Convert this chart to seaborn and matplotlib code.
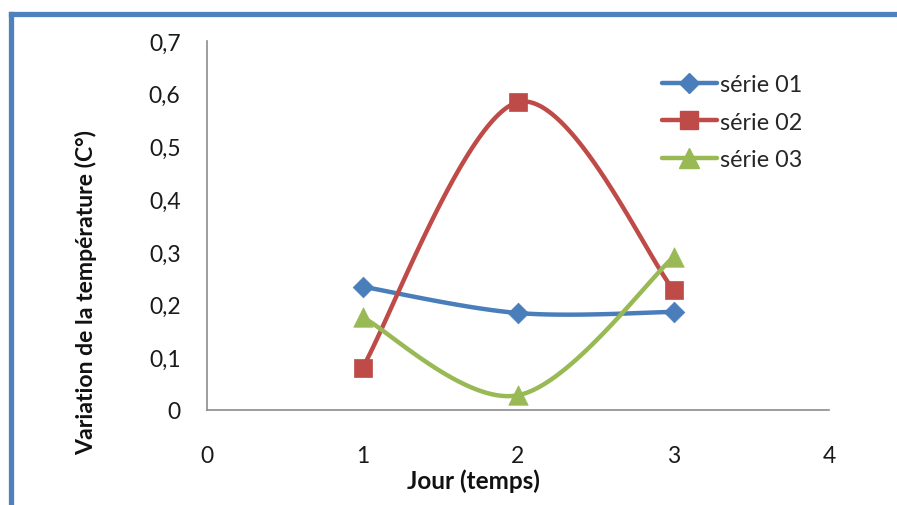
import numpy as np
import pandas as pd
import matplotlib
matplotlib.use("Agg")
import matplotlib.pyplot as plt
from matplotlib.lines import Line2D
import seaborn as sns

# Measurements per day
jours = [1, 2, 3]
serie_01 = [0.234, 0.184, 0.186]
serie_02 = [0.080, 0.584, 0.228]
serie_03 = [0.176, 0.028, 0.290]
series_names = ["série 01", "série 02", "série 03"]
y_ticks = [0, 0.1, 0.2, 0.3, 0.4, 0.5, 0.6, 0.7]
y_tick_labels = ["0", "0,1", "0,2", "0,3", "0,4", "0,5", "0,6", "0,7"]
x_ticks = [0, 1, 2, 3, 4]
x_tick_labels = ["0", "1", "2", "3", "4"]

colors = ["#4A7EBB", "#BE4B48", "#98B954"]
markers = ["D", "s", "^"]
marker_sizes = [10.5, 13.5, 14]

sns.set_theme(style="white")
plt.rcParams["font.family"] = ["Lato", "DejaVu Sans"]


def smooth(xs, ys, n=60):
    """Catmull-Rom style Bezier smoothing through the given points."""
    p = np.column_stack([xs, ys]).astype(float)
    ext = np.vstack([p[0], p, p[-1]])
    out = []
    for i in range(len(p) - 1):
        p0, p1, p2, p3 = ext[i], ext[i + 1], ext[i + 2], ext[i + 3]
        c1 = p1 + (p2 - p0) / 6.0
        c2 = p2 - (p3 - p1) / 6.0
        t = np.linspace(0, 1, n)[:, None]
        seg = ((1 - t) ** 3) * p1 + 3 * ((1 - t) ** 2) * t * c1 + 3 * (1 - t) * t ** 2 * c2 + t ** 3 * p2
        out.append(seg if i == 0 else seg[1:])
    s = np.vstack(out)
    return s[:, 0], s[:, 1]


fig = plt.figure(figsize=(8.97, 5.06), dpi=100)
ax = fig.add_axes([207 / 897, 1 - 411 / 506, 622 / 897, 369 / 506])

for name, vals, c, m, ms in zip(series_names, [serie_01, serie_02, serie_03], colors, markers, marker_sizes):
    sx, sy = smooth(jours, vals)
    curve = pd.DataFrame({"x": sx, "y": sy})
    sns.lineplot(data=curve, x="x", y="y", sort=False, estimator=None, ax=ax,
                 color=c, linewidth=3.2, zorder=2)
    pts = pd.DataFrame({"x": jours, "y": vals})
    sns.scatterplot(data=pts, x="x", y="y", ax=ax, marker=m, s=ms ** 2,
                    color=c, edgecolor=c, linewidth=0.5, zorder=3)

ax.set_xlim(0, 4)
ax.set_ylim(0, 0.7)
ax.set_xticks(x_ticks)
ax.set_xticklabels(x_tick_labels)
ax.set_yticks(y_ticks)
ax.set_yticklabels(y_tick_labels)
ax.tick_params(axis="both", length=0, labelsize=16.5, colors="#1a1a1a")
ax.tick_params(axis="y", pad=19)
ax.tick_params(axis="x", pad=25)

for side in ["top", "right"]:
    ax.spines[side].set_visible(False)
for side in ["left", "bottom"]:
    ax.spines[side].set_color("#8C8C8C")
    ax.spines[side].set_linewidth(1.2)

ax.set_xlabel("Jour (temps)", fontsize=17.5, fontweight="bold", color="#111111")
ax.xaxis.set_label_coords(0.428, -0.19)
ax.xaxis.label.set_va("center")
ax.set_ylabel("Variation de la température (C°)", fontsize=16.6, fontweight="bold", color="#111111")
ax.yaxis.set_label_coords(-0.195, 0.321)
ax.yaxis.label.set_va("center")

handles = [Line2D([0], [0], color=c, linewidth=3.2, marker=m, markersize=ms, markeredgecolor=c)
           for c, m, ms in zip(colors, markers, marker_sizes)]
ax.legend(handles, series_names, loc="upper left", bbox_to_anchor=(0.7315, 0.91),
          frameon=False, fontsize=16.8, handlelength=2.35, handletextpad=0.13,
          labelspacing=0.7, borderpad=0, borderaxespad=0)

# Blue outer frame (left and top edges)
fig.add_artist(Line2D([10.5 / 897, 10.5 / 897], [0, 1 - 14.5 / 506], transform=fig.transFigure,
                      color="#4F81BD", linewidth=3.8, solid_capstyle="projecting"))
fig.add_artist(Line2D([10.5 / 897, 1], [1 - 14.5 / 506, 1 - 14.5 / 506], transform=fig.transFigure,
                      color="#4F81BD", linewidth=3.8, solid_capstyle="projecting"))

fig.savefig("out.png", dpi=100, facecolor="white")
